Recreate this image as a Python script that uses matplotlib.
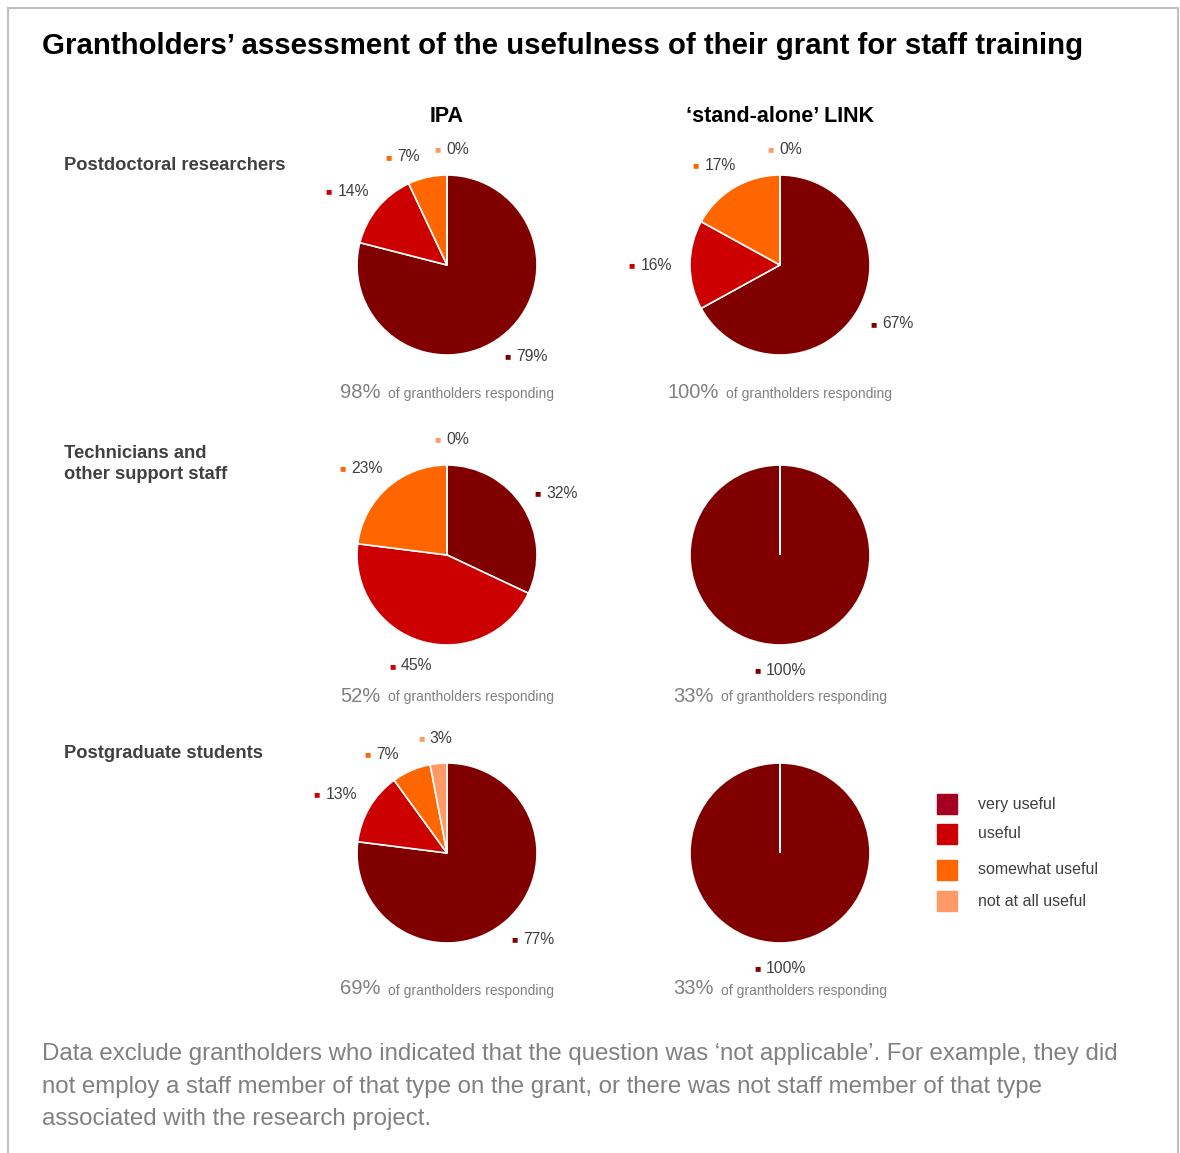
import numpy as np
import matplotlib.pyplot as plt
from matplotlib.patches import Rectangle
from matplotlib.offsetbox import TextArea, HPacker, AnnotationBbox

plt.rcParams['font.family'] = ['Liberation Sans', 'DejaVu Sans']

categories = ['very useful', 'useful', 'somewhat useful', 'not at all useful']
pie_colors = ['#800000', '#CC0000', '#FF6600', '#FF9966']
legend_colors = ['#A50021', '#CC0000', '#FF6600', '#FF9966']

columns = ['IPA', '\u2018stand-alone\u2019 LINK']
rows = ['Postdoctoral researchers', 'Technicians and\nother support staff', 'Postgraduate students']

# percentages per category; None = category not reported for that group
ipa_values = [
    [79, 14, 7, 0],
    [32, 45, 23, 0],
    [77, 13, 7, 3],
]
link_values = [
    [67, 16, 17, 0],
    [100, None, None, None],
    [100, None, None, None],
]
ipa_response = [98, 52, 69]
link_response = [100, 33, 33]

W, H = 1180, 1153
fig = plt.figure(figsize=(W / 100, H / 100), dpi=100)

def fx(px):
    return px / W

def fy(py):
    return 1 - py / H

grey = '#404040'
light = '#808080'

# frame
fig.patches.append(Rectangle((fx(8), fy(1165)), fx(1170), 1157 / H,
                             transform=fig.transFigure, fill=False,
                             edgecolor='#BFBFBF', linewidth=1.5))

fig.text(fx(42), fy(46), 'Grantholders\u2019 assessment of the usefulness of their grant for staff training',
         fontsize=21.2, fontweight='bold', color='black', va='center', ha='left')

col_x = [447, 780]
row_y = [265, 555, 853]
resp_y = [393, 696, 989]
label_y = [165, 464, 754]
R = 90  # pie radius in pixels

for cx, name in zip(col_x, columns):
    fig.text(fx(cx), fy(116), name, fontsize=15.5, fontweight='bold',
             color='black', ha='center', va='center')

for ry, name in zip(label_y, rows):
    fig.text(fx(64), fy(ry), name, fontsize=13.2, fontweight='bold',
             color=grey, ha='left', va='center', linespacing=1.25)


def draw_pie(cx, cy, values):
    ax = fig.add_axes([fx(cx - 2 * R), fy(cy + 2 * R), 4 * R / W, 4 * R / H])
    vals = [v if v is not None else 0 for v in values]
    ax.pie(vals, colors=pie_colors, startangle=90, counterclock=False,
           radius=1, wedgeprops=dict(edgecolor='white', linewidth=1.2))
    ax.set_xlim(-2, 2)
    ax.set_ylim(-2, 2)
    ax.axis('off')

    # mid angle of every labelled slice
    total = sum(vals)
    start = 90.0
    labels = []
    for v, c in zip(values, pie_colors):
        if v is None:
            continue
        span = 360.0 * v / total
        labels.append([start - span / 2, v, c])
        start -= span
    # spread crowded labels near the top so they don't collide
    for k in range(len(labels) - 1):
        if labels[k][1] > 0 and abs(labels[k][0] - labels[k + 1][0]) % 360 < 20:
            labels[k][0] += 8

    for ang, v, c in labels:
        mid = np.radians(ang)
        cos, sin = np.cos(mid), np.sin(mid)
        if v == 0:
            align = (0.37, 0.0)
        else:
            align = (0.5 - 0.5 * cos, 0.5 - 0.5 * sin)
        box = HPacker(children=[
            TextArea('\u25a0', textprops=dict(color=c, fontsize=7.5)),
            TextArea(f'{v}%', textprops=dict(color=grey, fontsize=11.3)),
        ], align='center', pad=0, sep=4)
        ab = AnnotationBbox(box, (1.2 * cos, 1.2 * sin), box_alignment=align,
                            frameon=False, pad=0, xycoords='data')
        ax.add_artist(ab)
    return ax


for i in range(3):
    draw_pie(col_x[0], row_y[i], ipa_values[i])
    draw_pie(col_x[1], row_y[i], link_values[i])

# response rates under each pie
for i in range(3):
    for cx, resp in zip(col_x, [ipa_response[i], link_response[i]]):
        box = HPacker(children=[
            TextArea(f'{resp}%', textprops=dict(color=light, fontsize=14.5)),
            TextArea('of grantholders responding', textprops=dict(color=light, fontsize=10)),
        ], align='baseline', pad=0, sep=5)
        ab = AnnotationBbox(box, (fx(cx), fy(resp_y[i])), xycoords='figure fraction',
                            box_alignment=(0.5, 0.5), frameon=False, pad=0)
        fig.add_artist(ab)

# legend
leg_y = [804, 834, 870, 901]
for ly, c, name in zip(leg_y, legend_colors, categories):
    fig.patches.append(Rectangle((fx(937), fy(ly + 10)), 20 / W, 20 / H,
                                 transform=fig.transFigure, color=c))
    fig.text(fx(978), fy(ly), name, fontsize=11.5, color=grey, ha='left', va='center')

note = ('Data exclude grantholders who indicated that the question was \u2018not applicable\u2019. For example, they did\n'
        'not employ a staff member of that type on the grant, or there was not staff member of that type\n'
        'associated with the research project.')
fig.text(fx(42), fy(1043), note, fontsize=17.3, color=light, ha='left', va='top',
         linespacing=1.62)

fig.savefig('out.png', dpi=100)
